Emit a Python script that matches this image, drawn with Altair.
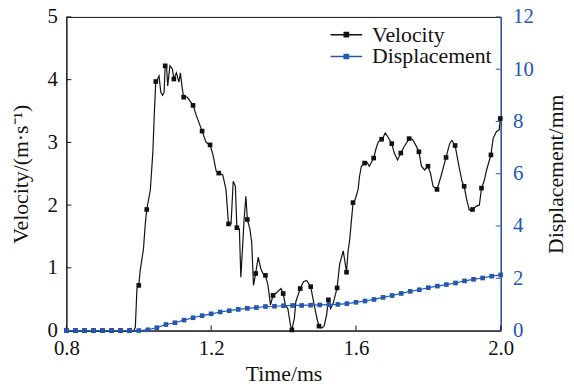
import altair as alt
import pandas as pd

# Velocity trace (time in ms, velocity in m/s)
vel_t = [0.8, 0.986, 0.9905, 0.995, 1.0, 1.004, 1.013, 1.018, 1.022, 1.032, 1.039, 1.043, 1.047,
         1.052, 1.056, 1.061, 1.066, 1.070, 1.073, 1.077, 1.080, 1.086, 1.093, 1.097, 1.104, 1.111,
         1.115, 1.120, 1.124, 1.134, 1.150, 1.159, 1.175, 1.186, 1.197, 1.205, 1.214, 1.221, 1.232,
         1.241, 1.248, 1.255, 1.261, 1.267, 1.271, 1.278, 1.282, 1.287, 1.291, 1.296, 1.300, 1.307,
         1.312, 1.317, 1.323, 1.330, 1.337, 1.343, 1.350, 1.357, 1.364, 1.371, 1.382, 1.393, 1.399,
         1.405, 1.412, 1.419, 1.423, 1.430, 1.434, 1.446, 1.455, 1.464, 1.475, 1.483, 1.492, 1.498,
         1.505, 1.512, 1.519, 1.524, 1.530, 1.537, 1.548, 1.555, 1.565, 1.574, 1.578, 1.583, 1.592,
         1.598, 1.606, 1.610, 1.615, 1.624, 1.631, 1.637, 1.649, 1.656, 1.662, 1.671, 1.676, 1.681,
         1.688, 1.699, 1.706, 1.715, 1.724, 1.733, 1.747, 1.756, 1.765, 1.774, 1.781, 1.790, 1.799,
         1.806, 1.813, 1.824, 1.835, 1.849, 1.859, 1.865, 1.874, 1.883, 1.893, 1.899, 1.906, 1.913,
         1.922, 1.932, 1.941, 1.947, 1.954, 1.961, 1.973, 1.979, 1.988, 1.996, 1.999]
vel_v = [0.0, 0.0, 0.05, 0.67, 0.72, 0.96, 1.30, 1.70, 1.93, 2.24, 2.85, 3.46, 3.97,
         4.01, 4.06, 3.80, 3.75, 3.80, 4.22, 4.19, 3.90, 4.22, 4.17, 4.01, 4.11, 3.96,
         4.11, 3.87, 3.72, 3.72, 3.59, 3.43, 3.18, 3.00, 2.96, 2.80, 2.54, 2.51, 2.48,
         2.25, 1.70, 1.70, 2.38, 2.30, 1.64, 1.62, 0.85, 1.35, 1.77, 2.14, 1.77, 1.62,
         1.41, 0.72, 0.91, 1.17, 0.99, 0.91, 0.88, 0.72, 0.41, 0.56, 0.61, 0.67, 0.59,
         0.41, 0.35, 0.09, 0.01, 0.20, 0.46, 0.67, 0.78, 0.80, 0.70, 0.46, 0.20, 0.07,
         0.04, 0.07, 0.25, 0.49, 0.35, 0.43, 0.68, 1.06, 1.27, 0.93, 1.25, 1.46, 2.04,
         2.09, 2.25, 2.46, 2.62, 2.67, 2.68, 2.62, 2.75, 2.91, 3.01, 3.05, 3.09, 3.15,
         3.09, 2.98, 2.83, 2.72, 2.83, 2.93, 3.06, 3.05, 2.96, 2.85, 2.62, 2.56, 2.62,
         2.51, 2.30, 2.25, 2.46, 2.76, 2.98, 3.03, 2.95, 2.67, 2.38, 2.30, 2.09, 1.92,
         1.93, 1.98, 2.00, 2.27, 2.38, 2.56, 2.80, 3.06, 3.17, 3.20, 3.38]

# Velocity square markers
velm_t = [0.8, 0.825, 0.85, 0.875, 0.9, 0.925, 0.95, 0.975,
          1.0, 1.022, 1.047, 1.073, 1.097, 1.124, 1.150, 1.175, 1.197, 1.221, 1.248, 1.271,
          1.300, 1.323, 1.350, 1.371, 1.399, 1.423, 1.446, 1.475, 1.498, 1.524, 1.548, 1.574,
          1.592, 1.624, 1.649, 1.671, 1.699, 1.724, 1.747, 1.774, 1.799, 1.824, 1.849, 1.874,
          1.899, 1.922, 1.947, 1.973, 1.999]
velm_v = [0, 0, 0, 0, 0, 0, 0, 0,
          0.72, 1.93, 3.97, 4.22, 4.01, 3.72, 3.59, 3.18, 2.96, 2.51, 1.70, 1.64,
          1.77, 0.91, 0.88, 0.56, 0.59, 0.01, 0.67, 0.70, 0.07, 0.49, 0.68, 0.93,
          2.04, 2.67, 2.75, 3.05, 2.98, 2.83, 3.06, 2.85, 2.62, 2.25, 2.76, 2.95,
          2.30, 1.93, 2.27, 2.80, 3.38]

# Displacement (mm) at 0.025 ms steps
disp_t = [round(0.8 + 0.025 * i, 3) for i in range(49)]
disp_v = [0, 0, 0, 0, 0, 0, 0, 0, 0,
          0.03, 0.11, 0.23, 0.30, 0.40, 0.49, 0.57, 0.64, 0.71, 0.76, 0.81, 0.85, 0.88,
          0.92, 0.93, 0.95, 0.96, 0.96, 0.97, 0.98, 0.99, 1.00, 1.03, 1.08, 1.13, 1.19,
          1.27, 1.34, 1.42, 1.50, 1.56, 1.64, 1.70, 1.76, 1.82, 1.90, 1.96, 2.01, 2.08, 2.13]

x_ticks = [0.8, 1.2, 1.6, 2.0]
left_ticks = [0, 1, 2, 3, 4, 5]
right_ticks = [0, 2, 4, 6, 8, 10, 12]

BLACK = "#111111"
BLUE = "#2257b2"
FONT = "Liberation Serif"
W, H = 439, 317
LBL = 21
TTL = 22

vel_df = pd.DataFrame({"t": vel_t, "v": vel_v})
velm_df = pd.DataFrame({"t": velm_t, "v": velm_v, "s": "Velocity"})
disp_df = pd.DataFrame({"t": disp_t, "v": disp_v, "s": "Displacement"})
xt_df = pd.DataFrame({"t": x_ticks})
lt_df = pd.DataFrame({"v": left_ticks})
rt_df = pd.DataFrame({"v": right_ticks})

xscale = alt.Scale(domain=[0.8, 2.0], nice=False, zero=False)
lscale = alt.Scale(domain=[0, 5], nice=False)
rscale = alt.Scale(domain=[0, 12], nice=False)

common = dict(ticks=False, grid=False, labelFontSize=LBL, titleFontSize=TTL, labelFont=FONT,
              titleFont=FONT, titleFontWeight="normal", labelFlush=False, titleColor=BLACK)
xaxis = alt.Axis(values=x_ticks, format=".1f", title="Time/ms", domainColor=BLACK,
                 labelColor=BLACK, labelPadding=7, titlePadding=5, **common)
laxis = alt.Axis(values=left_ticks, title="Velocity/(m·s⁻¹)", domainColor=BLACK,
                 labelColor=BLACK, labelPadding=9, titlePadding=15, **common)
raxis = alt.Axis(values=right_ticks, title="Displacement/mm", orient="right",
                 domainColor=BLUE, labelColor=BLUE, labelPadding=12, titlePadding=12,
                 titleAngle=270, titleBaseline="top", **common)

cdom = ["Velocity", "Displacement"]
crange = [BLACK, BLUE]
legend = alt.Legend(
    title=None, orient="none", legendX=272, legendY=7,
    symbolType="M-2,0H2M-0.28,-0.28H0.28V0.28H-0.28Z",
    symbolSize=256, symbolStrokeWidth=1.3, labelFont=FONT, labelFontSize=TTL,
    labelColor=BLACK, labelOffset=15, rowPadding=0, padding=0,
)

vel_line = alt.Chart(vel_df).mark_line(color=BLACK, strokeWidth=1.2).encode(
    x=alt.X("t:Q", scale=xscale, axis=xaxis),
    y=alt.Y("v:Q", scale=lscale, axis=laxis),
)
vel_pts = alt.Chart(velm_df).mark_point(shape="square", size=22, filled=True, opacity=1,
                                        strokeWidth=0).encode(
    x=alt.X("t:Q", scale=xscale, axis=xaxis),
    y=alt.Y("v:Q", scale=lscale, axis=laxis),
    fill=alt.Fill("s:N", scale=alt.Scale(domain=cdom, range=crange), legend=legend),
    stroke=alt.Stroke("s:N", scale=alt.Scale(domain=cdom, range=crange), legend=legend),
)
x_tick_marks = alt.Chart(xt_df).mark_rule(color=BLACK, strokeWidth=1).encode(
    x=alt.X("t:Q", scale=xscale, axis=xaxis),
    y=alt.value(H), y2=alt.value(H - 5),
)
l_tick_marks = alt.Chart(lt_df).mark_rule(color=BLACK, strokeWidth=1).encode(
    y=alt.Y("v:Q", scale=lscale, axis=laxis),
    x=alt.value(0), x2=alt.value(5),
)
left = alt.layer(vel_line, x_tick_marks, l_tick_marks, vel_pts)

disp_line = alt.Chart(disp_df).mark_line(color=BLUE, strokeWidth=1.2).encode(
    x=alt.X("t:Q", scale=xscale, axis=xaxis),
    y=alt.Y("v:Q", scale=rscale, axis=raxis),
)
disp_pts = alt.Chart(disp_df).mark_point(shape="square", size=22, filled=True, opacity=1,
                                         strokeWidth=0).encode(
    x=alt.X("t:Q", scale=xscale, axis=xaxis),
    y=alt.Y("v:Q", scale=rscale, axis=raxis),
    fill=alt.Fill("s:N", scale=alt.Scale(domain=cdom, range=crange), legend=legend),
    stroke=alt.Stroke("s:N", scale=alt.Scale(domain=cdom, range=crange), legend=legend),
)
r_tick_marks = alt.Chart(rt_df).mark_rule(color=BLUE, strokeWidth=1).encode(
    y=alt.Y("v:Q", scale=rscale, axis=raxis),
    x=alt.value(W), x2=alt.value(W - 5),
)
right = alt.layer(disp_line, disp_pts, r_tick_marks)

chart = alt.layer(left, right).resolve_scale(y="independent").properties(
    width=W, height=H,
    padding={"left": 59, "top": 7, "right": 66, "bottom": 52},
    autosize=alt.AutoSizeParams(type="none"),
    background="white",
).configure_view(stroke=BLACK, strokeWidth=1)

chart.save("out.html", embed_options={"renderer": "svg", "actions": False})
